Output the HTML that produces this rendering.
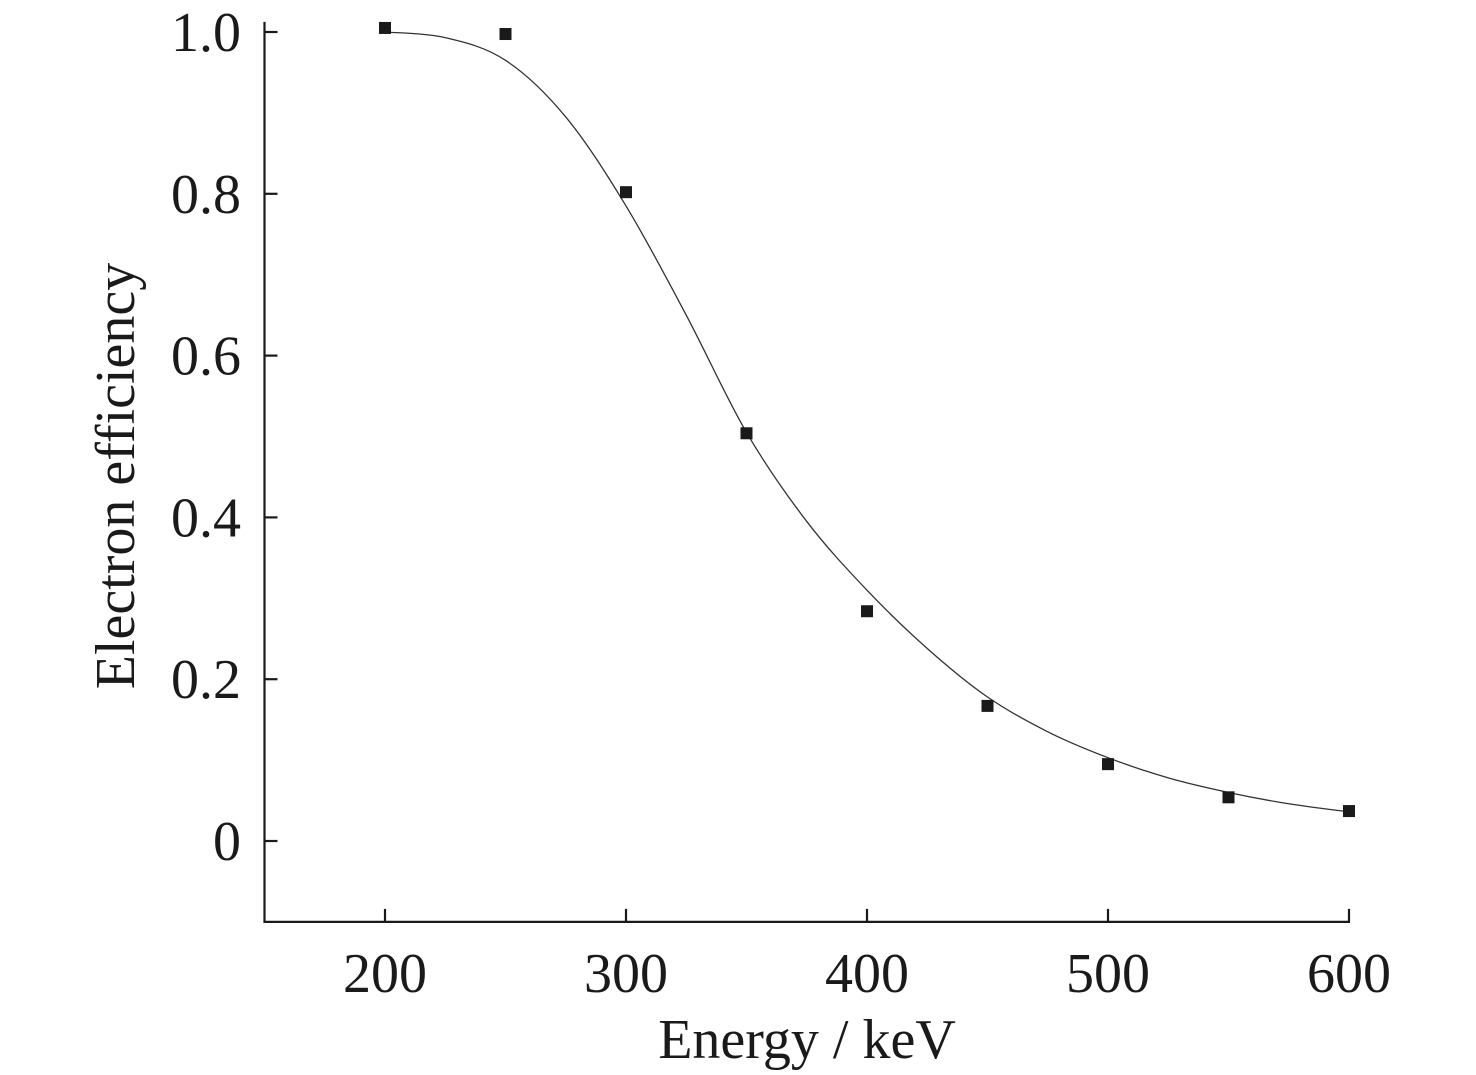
<!DOCTYPE html>
<html><head><meta charset="utf-8"><style>
html,body{margin:0;padding:0;background:#fff;}
svg{display:block;}
text{font-family:"Liberation Serif",serif;fill:#1a1a1a;}
</style></head><body>
<svg id="chart" width="1476" height="1075" viewBox="0 0 1476 1075" xmlns="http://www.w3.org/2000/svg">
<g id="axes"></g>
<g id="curve"></g>
<g id="points"></g>
<text x="807" y="1058" font-size="56" text-anchor="middle">Energy / keV</text>
<text transform="translate(134,476) rotate(-90)" font-size="56" text-anchor="middle">Electron efficiency</text>
</svg>
<script>
const xTicks=[200,300,400,500,600];
const yTicks=[0,0.2,0.4,0.6,0.8,1.0];
const yTickLabels=["0","0.2","0.4","0.6","0.8","1.0"];
const energies=[200,250,300,350,400,450,500,550,600];
const efficiency=[1.005,0.9975,0.802,0.504,0.284,0.167,0.095,0.054,0.037];
const fitEnergies=[200,225,250,275,300,325,350,375,400,425,450,475,500,525,550,575,600];
const fitValues=[1.0,0.993,0.965,0.895,0.785,0.65,0.505,0.395,0.31,0.238,0.178,0.135,0.103,0.078,0.060,0.046,0.036];

const NS="http://www.w3.org/2000/svg";
const X=v=>385+(v-200)*2.41;
const Y=v=>841-v*809;
function mk(tag,attrs,parent){const e=document.createElementNS(NS,tag);for(const k in attrs)e.setAttribute(k,attrs[k]);parent.appendChild(e);return e;}
const axes=document.getElementById('axes');
let l=mk('path',{d:`M${X(150)},${Y(1.01)-2} L${X(150)},${Y(-0.1)} L${X(600)+1},${Y(-0.1)}`,fill:'none',stroke:'#1a1a1a','stroke-width':2.2},axes);


xTicks.forEach(t=>{
 const tk=mk('line',{x1:X(t),x2:X(t),y1:Y(-0.1),y2:Y(-0.1)-13,stroke:'#1a1a1a','stroke-width':2.2},axes);
 
 
 const tx=mk('text',{x:X(t),y:992,'font-size':56,'text-anchor':'middle'},axes);tx.textContent=t;
 
 
});
yTicks.forEach((t,i)=>{
 const tk=mk('line',{x1:X(150),x2:X(150)+13,y1:Y(t),y2:Y(t),stroke:'#1a1a1a','stroke-width':2.2},axes);
 
 
 const tx=mk('text',{x:241,y:Y(t)+19,'font-size':56,'text-anchor':'end'},axes);tx.textContent=yTickLabels[i];
 
 
});
const P=fitEnergies.map((e,i)=>[X(e),Y(fitValues[i])]);
let d=`M${P[0][0]},${P[0][1]}`;
for(let i=0;i<P.length-1;i++){
 const p0=P[Math.max(0,i-1)],p1=P[i],p2=P[i+1],p3=P[Math.min(P.length-1,i+2)];
 const c1=[p1[0]+(p2[0]-p0[0])/6,p1[1]+(p2[1]-p0[1])/6];
 const c2=[p2[0]-(p3[0]-p1[0])/6,p2[1]-(p3[1]-p1[1])/6];
 d+=` C${c1[0]},${c1[1]} ${c2[0]},${c2[1]} ${p2[0]},${p2[1]}`;
}
const cv=mk('path',{d,fill:'none',stroke:'#333','stroke-width':1.3},document.getElementById('curve'));


const pts=document.getElementById('points');
energies.forEach((e,i)=>{
 const r=mk('rect',{x:X(e)-6,y:Y(efficiency[i])-6,width:12,height:12,fill:'#1a1a1a'},pts);
 
 
});
</script>
</body></html>
